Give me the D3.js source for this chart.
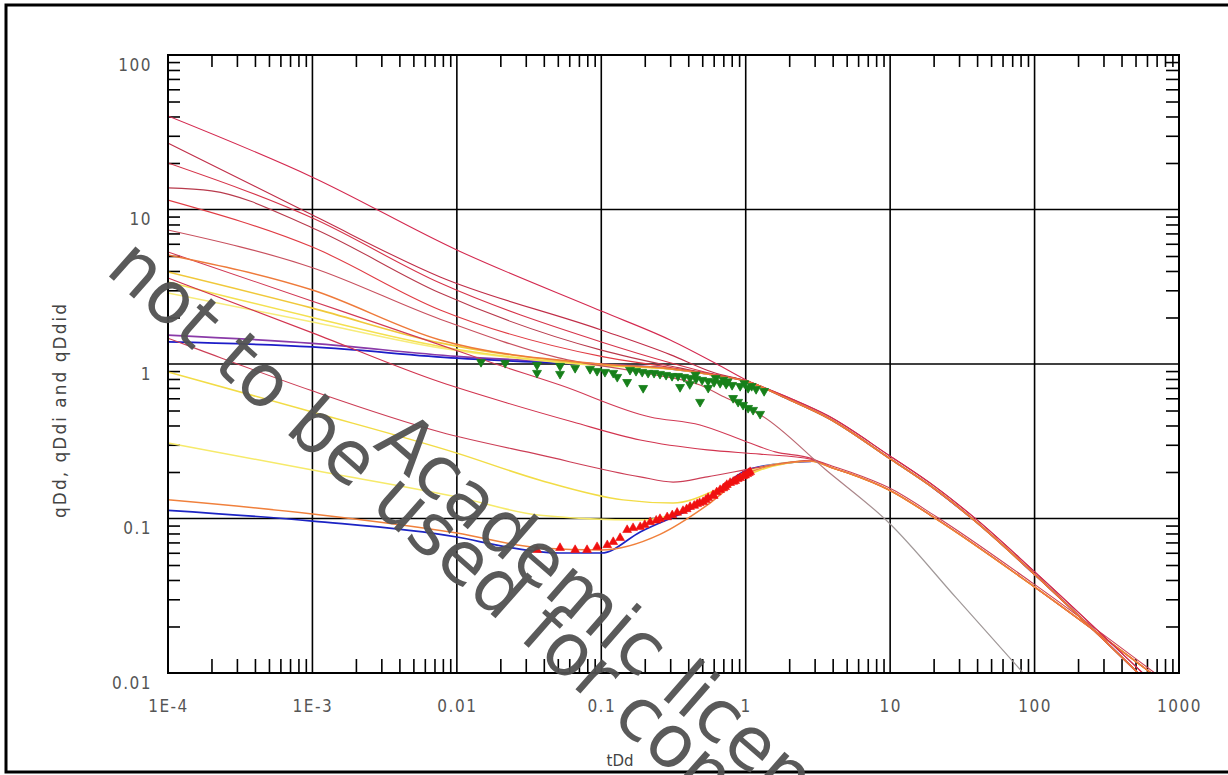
<!DOCTYPE html>
<html>
<head>
<meta charset="utf-8">
<script src="https://cdn.jsdelivr.net/npm/d3@7"></script>
<style>
  body { margin: 0; background: #fff; }
  svg { display: block; }
</style>
</head>
<body>
<svg id="chart" width="1228" height="775"></svg>
<script>
// ---- axis ticks ----
const xTickValues = [1e-4, 1e-3, 0.01, 0.1, 1, 10, 100, 1000];
const xTickLabels = ["1E-4", "1E-3", "0.01", "0.1", "1", "10", "100", "1000"];
const yTickValues = [0.01, 0.1, 1, 10, 100];
const yTickLabels = ["0.01", "0.1", "1", "10", "100"];

// ---- shared late-time branches [tDd, q] ----
const upperTail = [[2.03, 0.585], [3.72, 0.447], [9.84, 0.246], [20.8, 0.153], [39.4, 0.095], [97.7, 0.0444], [521, 0.01]];
const upperTailEdge = [[2.03, 0.6], [3.72, 0.462], [9.84, 0.256], [20.8, 0.159], [39.4, 0.099], [97.7, 0.0462], [560, 0.01]];
const lowerTail = [[4.0, 0.212], [5.28, 0.195], [9.84, 0.153], [20.8, 0.0995], [97.7, 0.0366], [642, 0.01]];
const lowerTailEdge = [[4.0, 0.218], [5.28, 0.2], [9.84, 0.158], [20.8, 0.103], [97.7, 0.038], [680, 0.01]];

// ---- rate curves (qDd), merging into the upper branch ----
const qA = [[1e-4, 40.3], [1e-3, 16.2], [0.01, 5.47], [0.1, 2.2], [0.3, 1.43], [0.63, 1.0], [1, 0.79]];
const qB = [[1e-4, 26.9], [1e-3, 9.2], [0.00766, 3.66], [0.1, 1.66], [0.3, 1.15], [0.6, 0.88], [1, 0.78]];
const qC = [[1e-4, 20.0], [1e-3, 8.8], [0.00766, 3.34], [0.1, 1.39], [0.3, 1.02], [0.6, 0.86], [1, 0.776]];
const qD = [[1e-4, 13.8], [2e-4, 13.2], [1e-3, 7.6], [0.00766, 2.88], [0.1, 1.23], [0.3, 0.97], [0.6, 0.855], [1, 0.776]];
const qE = [[1e-4, 11.5], [1e-3, 5.71], [0.00766, 2.24], [0.1, 1.12], [0.3, 0.95], [0.6, 0.85], [1, 0.776]];
const qH = [[1e-4, 5.08], [1e-3, 3.01], [0.00766, 1.43], [0.1, 1.0], [0.3, 0.93], [0.6, 0.85], [1, 0.776]];
const qI = [[1e-4, 3.94], [1e-3, 2.30], [0.00766, 1.37], [0.1, 0.99], [0.3, 0.93], [0.6, 0.85], [1, 0.776]];
const qJ = [[1e-4, 3.4], [1e-3, 2.0], [0.00766, 1.3], [0.1, 0.98], [0.3, 0.93], [0.6, 0.85], [1, 0.776]];
const qK = [[1e-4, 2.88], [1e-3, 1.87], [0.00766, 1.27], [0.1, 0.975], [0.3, 0.93], [0.6, 0.85], [1, 0.776]];
const qPurple = [[1e-4, 1.54], [1e-3, 1.36], [0.01, 1.12], [0.1, 1.0], [0.3, 0.935], [0.6, 0.852], [1, 0.776]];
const qBlue = [[1e-4, 1.39], [1e-3, 1.29], [0.01, 1.09], [0.1, 0.985], [0.3, 0.93], [0.6, 0.85], [1, 0.776]];

// ---- derivative-type curves, dropping below the stem ----
const dF = [[1e-4, 7.37], [1e-3, 4.2], [0.00766, 1.95], [0.05, 1.1], [0.218, 0.862], [0.483, 0.731], [0.734, 0.602], [1.0, 0.527], [1.3, 0.461], [3.6, 0.206], [9.84, 0.0935], [28.7, 0.0306], [83.4, 0.01]];
const dG = [[1e-4, 5.31], [1e-3, 2.55], [0.00766, 1.33], [0.0177, 1.015], [0.0518, 0.731], [0.218, 0.454], [0.483, 0.403], [1.02, 0.313], [1.6, 0.27], [2.84, 0.245]];
const dL1 = [[1e-4, 3.6], [1e-3, 1.59], [0.00766, 0.764], [0.0223, 0.559], [0.0638, 0.421], [0.186, 0.322], [0.541, 0.278], [1.258, 0.261], [2.84, 0.242]];
const dL2 = [[1e-4, 1.47], [1.67e-4, 1.23], [9.6e-4, 0.678], [0.00766, 0.363], [0.0377, 0.258], [0.186, 0.186], [0.314, 0.172], [0.541, 0.186], [1.258, 0.215], [2.84, 0.238]];
const dL3 = [[1e-4, 0.888], [1e-3, 0.489], [0.01, 0.265], [0.0377, 0.177], [0.1416, 0.132], [0.314, 0.126], [0.697, 0.16], [1.258, 0.206], [2.84, 0.236]];
const dL4 = [[1e-4, 0.308], [1e-3, 0.206], [0.01, 0.138], [0.0377, 0.105], [0.186, 0.0977], [0.541, 0.132], [1.258, 0.215], [2.84, 0.236]];
const dL5 = [[1e-4, 0.132], [1e-3, 0.107], [0.01, 0.0805], [0.0377, 0.0645], [0.1, 0.0626], [0.255, 0.079], [0.541, 0.122], [1.02, 0.194], [2.03, 0.23], [2.84, 0.235]];
const dL6 = [[1e-4, 0.113], [1e-3, 0.0963], [0.01, 0.0759], [0.0223, 0.0654], [0.0518, 0.0598], [0.1, 0.0598], [0.186, 0.0818], [0.541, 0.132], [1.02, 0.206], [2.03, 0.23], [2.84, 0.234]];

// ---- field data ----
const greenT = [0.0147, 0.0216, 0.0359, 0.0359, 0.0518, 0.0518, 0.0659, 0.0836, 0.0935, 0.106, 0.121, 0.129, 0.151, 0.195,
  0.158, 0.174, 0.192, 0.211, 0.232, 0.255, 0.281, 0.309, 0.340, 0.374, 0.412, 0.453, 0.499, 0.549, 0.604, 0.665, 0.732, 0.805, 0.915, 1.039, 1.18, 1.341,
  0.351, 0.483, 0.818, 0.886, 0.959, 1.039, 1.125, 1.258, 0.45, 0.62, 0.41, 0.55, 0.70, 0.75, 0.98, 1.1];
const greenQ = [1.03, 1.015, 0.985, 0.875, 0.971, 0.862, 0.942, 0.928, 0.901, 0.888, 0.875, 0.824, 0.764, 0.699,
  0.915, 0.901, 0.888, 0.875, 0.875, 0.862, 0.849, 0.836, 0.836, 0.824, 0.812, 0.800, 0.788, 0.776, 0.764, 0.753, 0.742, 0.731, 0.720, 0.699, 0.688, 0.668,
  0.709, 0.568, 0.602, 0.568, 0.543, 0.519, 0.504, 0.475, 0.85, 0.81, 0.74, 0.70, 0.79, 0.77, 0.75, 0.72];
const redT = [0.0359, 0.0518, 0.0659, 0.0797, 0.0935, 0.110, 0.121, 0.135, 0.151, 0.166, 0.186, 0.2, 0.218, 0.24, 0.255, 0.286, 0.31, 0.335, 0.368,
  0.39, 0.412, 0.44, 0.461, 0.48, 0.507, 0.53, 0.549, 0.594, 0.60, 0.63, 0.665, 0.70, 0.720, 0.74, 0.780, 0.82, 0.845, 0.88, 0.915, 0.959, 0.99, 1.023, 1.05, 1.073];
const redQ = [0.0626, 0.0645, 0.0626, 0.0626, 0.0654, 0.0673, 0.0705, 0.0748, 0.0843, 0.0868, 0.0881, 0.091, 0.0948, 0.097, 0.0993, 0.102, 0.105, 0.109, 0.112,
  0.115, 0.119, 0.121, 0.124, 0.126, 0.128, 0.132, 0.136, 0.142, 0.140, 0.148, 0.153, 0.157, 0.160, 0.165, 0.170, 0.173, 0.175, 0.180, 0.183, 0.188, 0.19, 0.194, 0.197, 0.200];

// ---- drawing ----
const W = 1228, H = 775;
const mLeft = 168, mRight = 1179, mTop = 55, mBottom = 673;
const svg = d3.select("#chart");
const x = d3.scaleLog().domain([1e-4, 1000]).range([mLeft, mRight]);
const y = d3.scaleLog().domain([0.01, 100]).range([mBottom, mTop]);

// outer frame
svg.append("rect").attr("x", 6).attr("y", 5).attr("width", W + 20).attr("height", H - 8)
  .attr("fill", "none").attr("stroke", "#000").attr("stroke-width", 3);

// minor ticks, all four sides
const minorX = [], minorY = [];
for (let d = -4; d < 3; d++) for (let k = 2; k <= 9; k++) minorX.push(k * Math.pow(10, d));
for (let d = -2; d < 2; d++) for (let k = 2; k <= 9; k++) minorY.push(k * Math.pow(10, d));
const tickStyle = g => { g.select(".domain").remove(); g.selectAll("line").attr("stroke", "#000").attr("stroke-width", 1.6); };
svg.append("g").attr("transform", `translate(0,${mBottom})`)
  .call(d3.axisBottom(x).tickValues(minorX).tickSize(-14).tickFormat("")).call(tickStyle);
svg.append("g").attr("transform", `translate(0,${mTop})`)
  .call(d3.axisTop(x).tickValues(minorX).tickSize(-12).tickFormat("")).call(tickStyle);
svg.append("g").attr("transform", `translate(${mLeft},0)`)
  .call(d3.axisLeft(y).tickValues(minorY).tickSize(-12).tickFormat("")).call(tickStyle);
svg.append("g").attr("transform", `translate(${mRight},0)`)
  .call(d3.axisRight(y).tickValues(minorY).tickSize(-13).tickFormat("")).call(tickStyle);

// decade grid
const grid = svg.append("g").attr("stroke", "#000").attr("stroke-width", 1.6);
xTickValues.slice(1, -1).forEach(v => grid.append("line").attr("x1", x(v)).attr("x2", x(v)).attr("y1", mTop).attr("y2", mBottom));
yTickValues.slice(1, -1).forEach(v => grid.append("line").attr("y1", y(v)).attr("y2", y(v)).attr("x1", mLeft).attr("x2", mRight));

// tick labels
const labelFont = "'Liberation Sans Narrow', 'DejaVu Sans Condensed', 'Liberation Sans', sans-serif";
svg.append("g").attr("transform", `translate(0,${mBottom})`)
  .call(d3.axisBottom(x).tickValues(xTickValues).tickSize(0).tickPadding(27).tickFormat((d, i) => xTickLabels[i]))
  .call(g => g.select(".domain").remove())
  .call(g => g.selectAll("text").attr("font-family", labelFont).attr("font-size", 17).attr("fill", "#555").attr("letter-spacing", 1.5));
svg.append("g").attr("transform", `translate(${mLeft},0)`)
  .call(d3.axisLeft(y).tickValues(yTickValues).tickSize(0).tickPadding(16).tickFormat((d, i) => yTickLabels[i]))
  .call(g => g.select(".domain").remove())
  .call(g => g.selectAll("text").attr("font-family", labelFont).attr("font-size", 17).attr("fill", "#555").attr("letter-spacing", 1.5).attr("dy", "0.9em"));

// axis titles
svg.append("text").attr("x", 620).attr("y", 766).attr("text-anchor", "middle")
  .attr("font-family", "'DejaVu Sans', sans-serif").attr("font-size", 15).attr("fill", "#444").text("tDd");
svg.append("text").attr("transform", "translate(66,410) rotate(-90)").attr("text-anchor", "middle")
  .attr("font-family", "'DejaVu Sans', sans-serif").attr("font-size", 17).attr("letter-spacing", 2).attr("fill", "#444").text("qDd, qDdi and qDdid");

// plot clip
svg.append("clipPath").attr("id", "plotClip").append("rect")
  .attr("x", mLeft).attr("y", mTop).attr("width", mRight - mLeft).attr("height", mBottom - mTop);
const plot = svg.append("g").attr("clip-path", "url(#plotClip)");

// gradient for the derivative line fading to grey
const defs = svg.append("defs");
const grad = defs.append("linearGradient").attr("id", "fadeGrey").attr("gradientUnits", "userSpaceOnUse")
  .attr("x1", x(1)).attr("x2", x(10)).attr("y1", 0).attr("y2", 0);
grad.append("stop").attr("offset", "0").attr("stop-color", "#c8505e");
grad.append("stop").attr("offset", "1").attr("stop-color", "#a09898");

const line = d3.line().x(d => x(d[0])).y(d => y(d[1])).curve(d3.curveMonotoneX);

// drawn bottom to top
const curves = [
  { pts: qPurple.concat(upperTail), color: "#8a3aa8", w: 1.7 },
  { pts: qBlue.concat(upperTail), color: "#1c1cc8", w: 1.7 },
  { pts: dL6, color: "#1c24c4", w: 1.7 },
  { pts: dL4.concat(lowerTail), color: "#f6ea6a", w: 1.5 },
  { pts: dL3.concat(lowerTail), color: "#f2dc46", w: 1.5 },
  { pts: qK.concat(upperTail), color: "#f7ec7a", w: 1.5 },
  { pts: qJ.concat(upperTail), color: "#f4e050", w: 1.5 },
  { pts: qI.concat(upperTail), color: "#f0c83a", w: 1.6 },
  { pts: dL2.concat(lowerTailEdge), color: "#cc3e56", w: 1.1 },
  { pts: dL1.concat(lowerTail), color: "#d2344f", w: 1.1 },
  { pts: dG.concat(lowerTail), color: "#d23a55", w: 1.1 },
  { pts: dL5.concat(lowerTail), color: "#f0803c", w: 1.5 },
  { pts: dF, color: "url(#fadeGrey)", w: 1.2 },
  { pts: qE.concat(upperTail), color: "#e03c44", w: 1.1 },
  { pts: qD.concat(upperTail), color: "#b83a4c", w: 1.1 },
  { pts: qC.concat(upperTail), color: "#d6344a", w: 1.1 },
  { pts: qB.concat(upperTailEdge), color: "#c02e48", w: 1.1 },
  { pts: qA.concat(upperTailEdge), color: "#d42a50", w: 1.1 },
  { pts: qH.concat(upperTail), color: "#ee7a3a", w: 1.5 }
];
plot.selectAll("path.curve").data(curves).join("path").attr("class", "curve")
  .attr("d", c => line(c.pts)).attr("fill", "none")
  .attr("stroke", c => c.color).attr("stroke-width", c => c.w);

// data markers
const tri = d3.symbol().type(d3.symbolTriangle).size(34);
plot.selectAll("path.green").data(greenT.map((t, i) => [t, greenQ[i]])).join("path").attr("class", "green")
  .attr("d", tri).attr("transform", d => `translate(${x(d[0])},${y(d[1])}) rotate(180)`)
  .attr("fill", "#17801a").attr("stroke", "#17801a").attr("stroke-width", 0.8);
plot.selectAll("path.red").data(redT.map((t, i) => [t, redQ[i]])).join("path").attr("class", "red")
  .attr("d", tri).attr("transform", d => `translate(${x(d[0])},${y(d[1])})`)
  .attr("fill", "#f01010").attr("stroke", "#f01010").attr("stroke-width", 0.6);

// frame
svg.append("rect").attr("x", mLeft).attr("y", mTop).attr("width", mRight - mLeft).attr("height", mBottom - mTop)
  .attr("fill", "none").attr("stroke", "#000").attr("stroke-width", 2);

// licence watermark
const wm = svg.append("g").attr("font-family", "'DejaVu Sans', Verdana, sans-serif")
  .attr("font-size", 73).attr("fill", "#525252").attr("opacity", 0.95);
wm.append("text").attr("transform", "translate(104,272) rotate(41.5)").text("not to be used for commercial purposes");
wm.append("text").attr("transform", "translate(372,446) rotate(41)").text("Academic license");
</script>
</body>
</html>
